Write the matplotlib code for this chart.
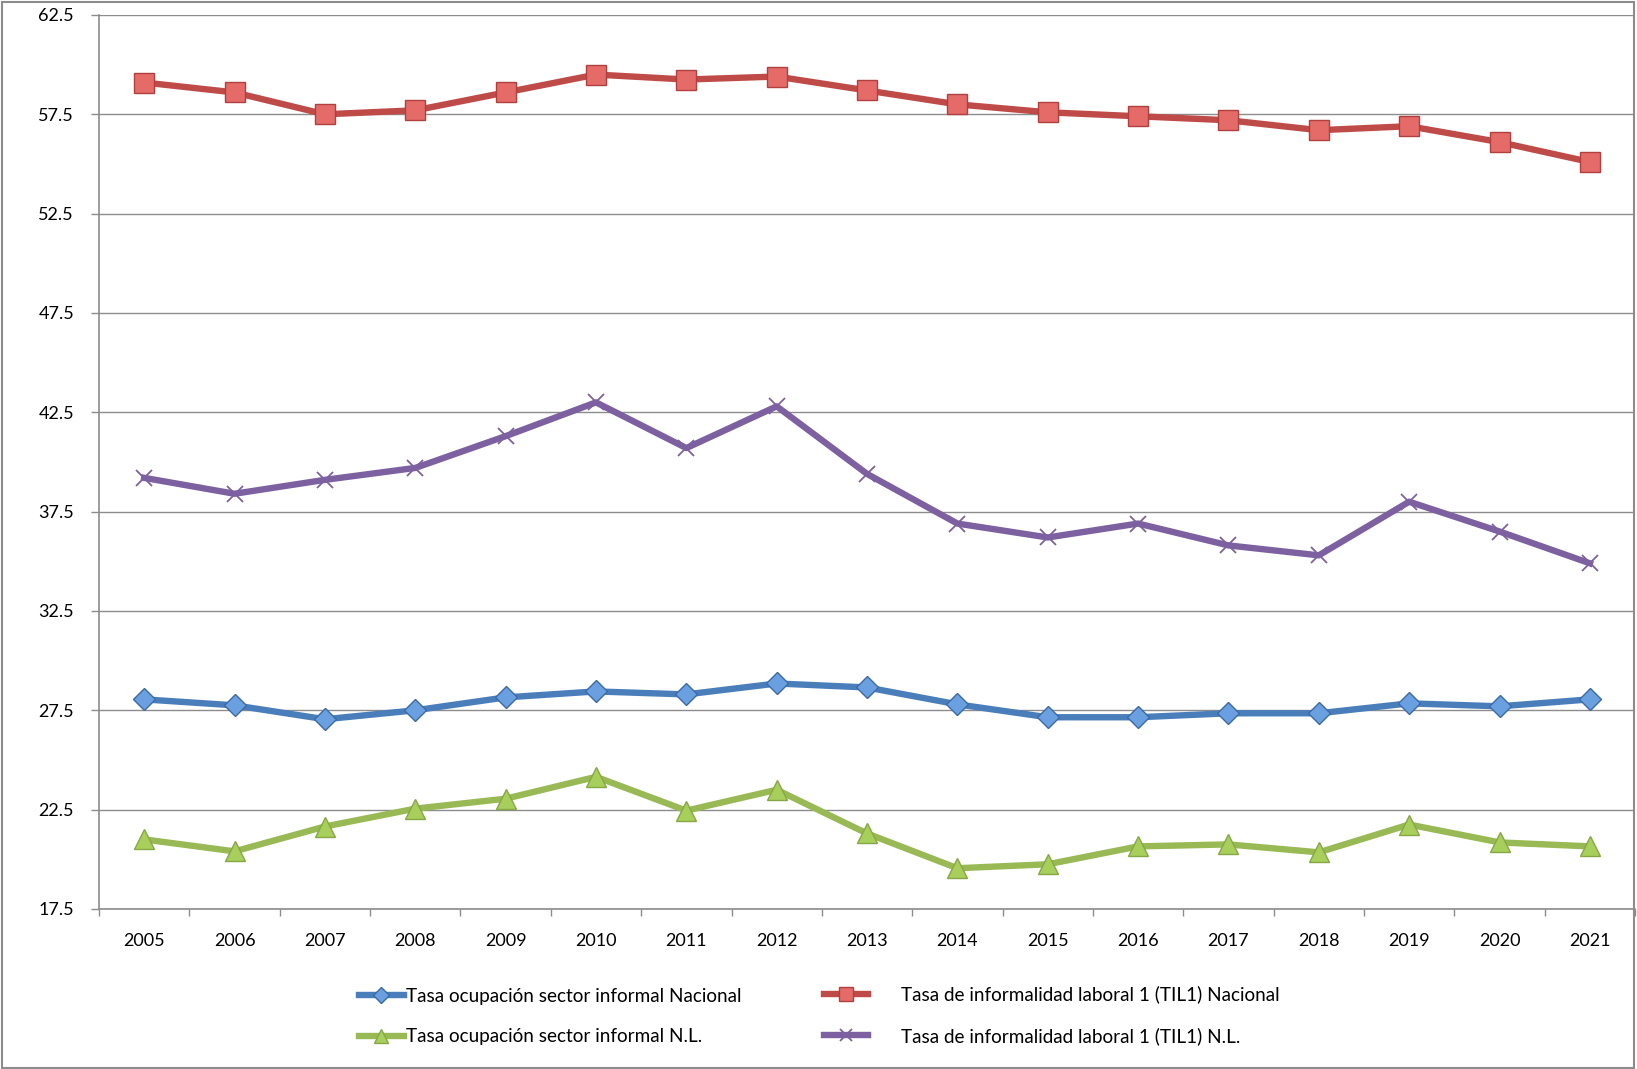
import matplotlib
matplotlib.use("Agg")
import matplotlib.pyplot as plt
from matplotlib.patches import Rectangle
from matplotlib.ticker import FixedLocator

plt.rcParams['font.family'] = ['Lato', 'DejaVu Sans']

# --- Data ---
years = [2005, 2006, 2007, 2008, 2009, 2010, 2011, 2012, 2013,
         2014, 2015, 2016, 2017, 2018, 2019, 2020, 2021]

ocup_nacional = [28.05, 27.75, 27.05, 27.5, 28.15, 28.45, 28.3, 28.85, 28.65,
                 27.8, 27.15, 27.15, 27.35, 27.35, 27.85, 27.7, 28.05]
ocup_nl = [21.0, 20.4, 21.65, 22.55, 23.05, 24.15, 22.45, 23.5, 21.3,
           19.55, 19.75, 20.65, 20.75, 20.35, 21.75, 20.85, 20.65]
til1_nacional = [59.1, 58.6, 57.5, 57.7, 58.6, 59.5, 59.25, 59.4, 58.7,
                 58.0, 57.6, 57.4, 57.2, 56.7, 56.9, 56.1, 55.1]
til1_nl = [39.2, 38.4, 39.1, 39.7, 41.3, 43.0, 40.7, 42.8, 39.4,
           36.9, 36.2, 36.9, 35.8, 35.3, 38.0, 36.5, 34.9]

labels = ["Tasa ocupación sector informal Nacional",
          "Tasa ocupación sector informal N.L.",
          "Tasa de informalidad laboral 1 (TIL1) Nacional",
          "Tasa de informalidad laboral 1 (TIL1) N.L."]

yticks = [17.5, 22.5, 27.5, 32.5, 37.5, 42.5, 47.5, 52.5, 57.5, 62.5]

# --- Figure ---
fig = plt.figure(figsize=(16.37, 10.69), dpi=100)
ax = fig.add_axes([0.0605, 0.1497, 0.9383, 0.8363])

x = list(range(len(years)))
grey = '#8c8c8c'

l_blue, = ax.plot(x, ocup_nacional, color='#4a7ebb', lw=4.6, marker='D', ms=11,
                  mfc='#6a9fe0', mec='#3c6aa5', mew=1, zorder=3)
l_green, = ax.plot(x, ocup_nl, color='#98b954', lw=4.6, marker='^', ms=15,
                   mfc='#a8cf5c', mec='#86a844', mew=1, zorder=3)
l_red, = ax.plot(x, til1_nacional, color='#be4b48', lw=4.6, marker='s', ms=15,
                 mfc='#e56b69', mec='#b0403d', mew=1, zorder=3)
l_purple, = ax.plot(x, til1_nl, color='#7d60a0', lw=4.6, marker='x', ms=12,
                    mec='#7d60a0', mew=1.3, zorder=3)

ax.set_xlim(-0.5, len(years) - 0.5)
ax.set_ylim(17.5, 62.5)
ax.set_yticks(yticks)
ax.set_yticklabels([f"{v:.1f}" for v in yticks], fontsize=13)
ax.yaxis.grid(True, color=grey, lw=1)
ax.set_axisbelow(True)

# category labels at centres, ticks at boundaries
ax.xaxis.set_major_locator(FixedLocator([i - 0.5 for i in range(len(years) + 1)]))
ax.xaxis.set_minor_locator(FixedLocator(x))
ax.set_xticklabels([])
ax.set_xticklabels([str(y) for y in years], minor=True, fontsize=13)
ax.tick_params(axis='x', which='major', length=5, color=grey, width=1)
ax.tick_params(axis='x', which='minor', length=0, pad=17)
ax.tick_params(axis='y', length=6, color=grey, width=1, pad=12)

for s in ['top', 'right']:
    ax.spines[s].set_visible(False)
for s in ['left', 'bottom']:
    ax.spines[s].set_color(grey)
    ax.spines[s].set_linewidth(1.2)

# --- Legend (two columns) ---
leg_kw = dict(loc='upper left', frameon=False, fontsize=13.6, handlelength=2.35,
              labelspacing=1.25, markerscale=0.7)
fig.legend([l_blue, l_green], labels[:2], bbox_to_anchor=(0.209, 0.092),
           handletextpad=0.15, **leg_kw)
fig.legend([l_red, l_purple], labels[2:], bbox_to_anchor=(0.493, 0.094),
           handletextpad=1.7, **leg_kw)

# outer chart border
fig.patches.append(Rectangle((0.001, 0.001), 0.997, 0.997, transform=fig.transFigure,
                             fill=False, edgecolor=grey, lw=1.5))

fig.savefig("out.png", dpi=100)
